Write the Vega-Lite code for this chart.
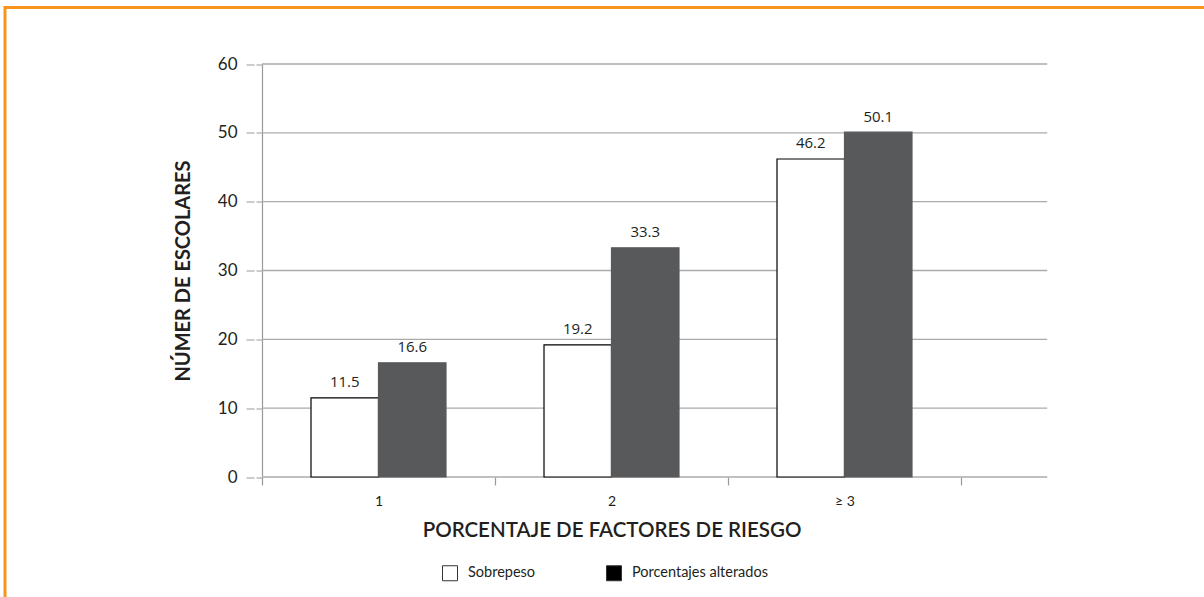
{
  "$schema": "https://vega.github.io/schema/vega-lite/v6.json",
  "width": 1199,
  "height": 589.5,
  "padding": {"left": 5, "top": 7.5, "right": 0, "bottom": 0},
  "autosize": {"type": "none"},
  "background": "#ffffff",
  "config": {
    "view": {"stroke": "#f7941d", "strokeWidth": 3, "strokeDash": [1199, 1788.5, 589.5], "strokeCap": "square"},
    "font": "Lato",
    "axisX": {
      "orient": "bottom", "offset": -120, "domain": false, "grid": false,
      "tickBand": "extent", "tickColor": "#999999", "tickSize": 8, "tickWidth": 1.2,
      "labelAngle": 0, "labelFont": "Lato", "labelFontSize": 14, "labelColor": "#231f20", "labelPadding": 9,
      "titleFont": "Lato", "titleFontSize": 20.5, "titleFontWeight": 600, "titleColor": "#231f20", "titlePadding": 12
    },
    "axisY": {
      "offset": -257, "grid": false,
      "domainColor": "#999999", "domainWidth": 1.2,
      "tickColor": "#999999", "tickSize": 16, "tickWidth": 1.2, "tickDash": [6, 2, 8, 2],
      "labelFont": "Lato", "labelFontSize": 17, "labelColor": "#231f20", "labelPadding": 9,
      "titleFont": "Lato", "titleFontSize": 20, "titleFontWeight": "bold", "titleColor": "#231f20", "titlePadding": 24
    }
  },
  "datasets": {
    "barras": [
      {"factor": "1", "serie": "Sobrepeso", "valor": 11.5},
      {"factor": "1", "serie": "Porcentajes alterados", "valor": 16.6},
      {"factor": "2", "serie": "Sobrepeso", "valor": 19.2},
      {"factor": "2", "serie": "Porcentajes alterados", "valor": 33.3},
      {"factor": "≥ 3", "serie": "Sobrepeso", "valor": 46.2},
      {"factor": "≥ 3", "serie": "Porcentajes alterados", "valor": 50.1}
    ],
    "grid": [{"v": 0}, {"v": 10}, {"v": 20}, {"v": 30}, {"v": 40}, {"v": 50}, {"v": 60}]
  },
  "resolve": {"scale": {"fill": "independent"}},
  "layer": [
    {
      "data": {"name": "grid"},
      "mark": {"type": "rule", "color": "#ababab", "strokeWidth": 1.3},
      "encoding": {
        "y": {"field": "v", "type": "quantitative", "title": "NÚMER DE ESCOLARES"},
        "x": {"datum": "1", "type": "nominal", "bandPosition": 0, "title": "PORCENTAJE DE FACTORES DE RIESGO"},
        "x2": {"datum": "≥ 3", "bandPosition": 1.37}
      }
    },
    {
      "data": {"name": "barras"},
      "mark": {"type": "bar", "strokeWidth": 1.2},
      "encoding": {
        "x": {
          "field": "factor", "type": "nominal",
          "scale": {"domain": ["1", "2", "≥ 3"], "range": [257, 956], "paddingInner": 0, "paddingOuter": 0},
          "title": "PORCENTAJE DE FACTORES DE RIESGO"
        },
        "xOffset": {
          "field": "serie", "type": "nominal",
          "scale": {"domain": ["Sobrepeso", "Porcentajes alterados"], "paddingOuter": 0.726, "paddingInner": 0}
        },
        "y": {
          "field": "valor", "type": "quantitative",
          "scale": {"domain": [0, 60], "range": [469.5, 56.5], "nice": false, "zero": true},
          "axis": {"values": [0, 10, 20, 30, 40, 50, 60]},
          "title": "NÚMER DE ESCOLARES"
        },
        "fill": {
          "field": "serie", "type": "nominal",
          "scale": {"domain": ["Sobrepeso", "Porcentajes alterados"], "range": ["#ffffff", "#58595b"]},
          "legend": null
        },
        "stroke": {
          "field": "serie", "type": "nominal",
          "scale": {"domain": ["Sobrepeso", "Porcentajes alterados"], "range": ["#000000", "#58595b"]},
          "legend": null
        }
      }
    },
    {
      "data": {"name": "barras"},
      "mark": {"type": "text", "baseline": "alphabetic", "dy": -10.5, "font": "Open Sans", "fontSize": 15, "color": "#231f20"},
      "encoding": {
        "x": {"field": "factor", "type": "nominal", "title": "PORCENTAJE DE FACTORES DE RIESGO"},
        "xOffset": {"field": "serie", "type": "nominal"},
        "y": {"field": "valor", "type": "quantitative", "title": "NÚMER DE ESCOLARES"},
        "text": {"field": "valor", "type": "quantitative", "format": ".1f"}
      }
    },
    {
      "data": {"name": "barras"},
      "transform": [{"filter": "false"}],
      "mark": {"type": "square", "filled": true},
      "encoding": {
        "fill": {
          "field": "serie", "type": "nominal",
          "scale": {"domain": ["Sobrepeso", "Porcentajes alterados"], "range": ["#ffffff", "#000000"]},
          "legend": {
            "orient": "none", "legendX": 437, "legendY": 557.5, "direction": "horizontal",
            "title": null, "padding": 0, "symbolType": "square", "symbolSize": 225,
            "symbolStrokeColor": "#333333", "symbolStrokeWidth": 1, "symbolOpacity": 1,
            "labelFont": "Lato", "labelFontSize": 14.5, "labelColor": "#231f20",
            "labelOffset": 10, "columnPadding": 68
          }
        }
      }
    }
  ]
}
